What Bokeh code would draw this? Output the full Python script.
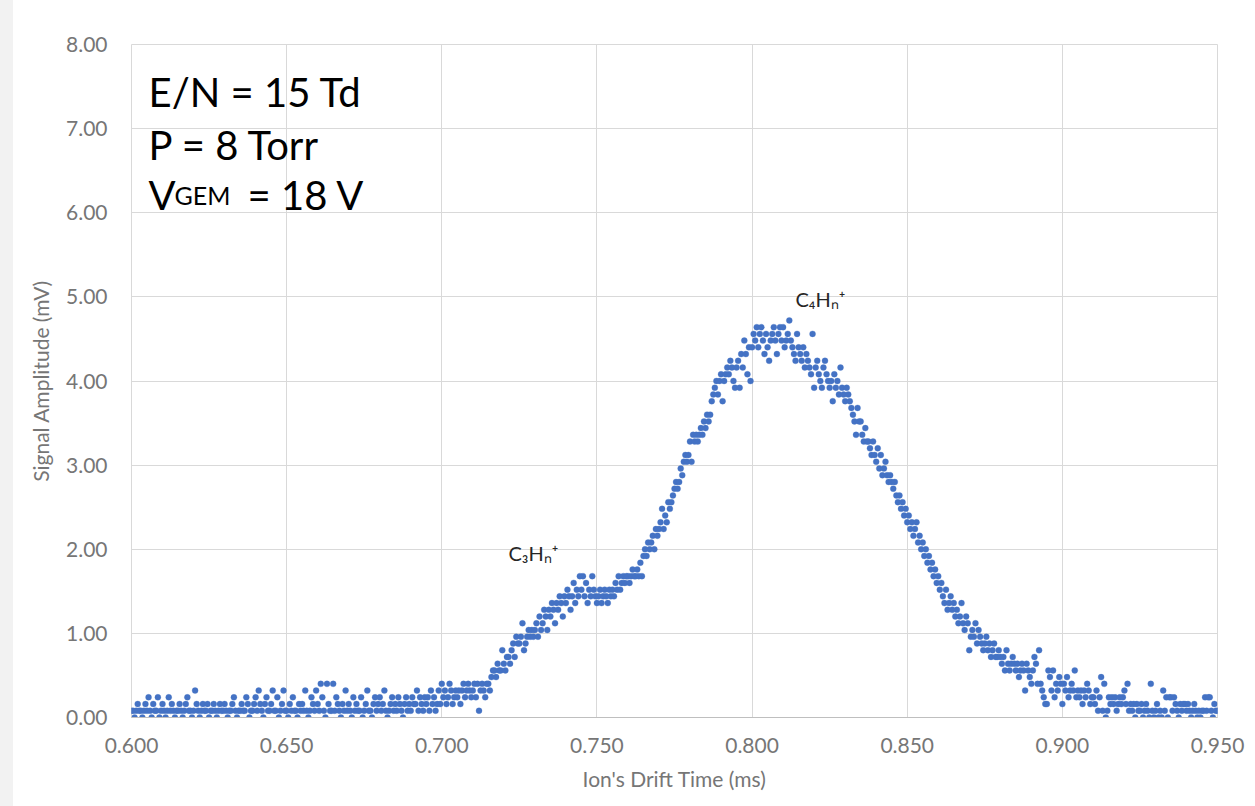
from bokeh.plotting import figure
from bokeh.models import (ColumnDataSource, Range1d, FixedTicker, NumeralTickFormatter,
                          Label, Spacer)
from bokeh.layouts import row
from bokeh.embed import file_html
from bokeh.resources import INLINE

# ---------------- data ----------------
t_start = 0.600      # ms, first sample
t_step = 0.0005      # ms, sampling interval

# Signal amplitude (mV), 0.600 - 0.6995 ms
amp_baseline = [
    0.08, 0.08, 0.00, 0.08, 0.16, 0.08, 0.08, 0.00, 0.08, 0.16,
    0.08, 0.24, 0.08, 0.00, 0.16, 0.08, 0.08, 0.24, 0.00, 0.08,
    0.16, 0.08, 0.00, 0.08, 0.24, 0.08, 0.16, 0.08, 0.00, 0.08,
    0.08, 0.16, 0.08, 0.00, 0.08, 0.16, 0.24, 0.08, 0.08, 0.00,
    0.08, 0.32, 0.16, 0.08, 0.00, 0.08, 0.16, 0.08, 0.08, 0.16,
    0.00, 0.08, 0.08, 0.16, 0.08, 0.00, 0.08, 0.16, 0.08, 0.08,
    0.16, 0.08, 0.00, 0.08, 0.08, 0.16, 0.24, 0.08, 0.00, 0.08,
    0.08, 0.16, 0.08, 0.08, 0.24, 0.16, 0.00, 0.08, 0.08, 0.16,
    0.24, 0.08, 0.32, 0.16, 0.08, 0.00, 0.16, 0.24, 0.08, 0.08,
    0.16, 0.32, 0.08, 0.08, 0.24, 0.00, 0.08, 0.16, 0.32, 0.08,
    0.08, 0.00, 0.16, 0.08, 0.24, 0.08, 0.08, 0.00, 0.16, 0.08,
    0.16, 0.08, 0.32, 0.08, 0.00, 0.08, 0.24, 0.16, 0.08, 0.32,
    0.16, 0.08, 0.40, 0.24, 0.08, 0.00, 0.40, 0.16, 0.08, 0.08,
    0.40, 0.08, 0.24, 0.16, 0.08, 0.00, 0.16, 0.08, 0.32, 0.08,
    0.16, 0.08, 0.00, 0.24, 0.08, 0.16, 0.08, 0.08, 0.24, 0.00,
    0.08, 0.16, 0.32, 0.08, 0.08, 0.00, 0.16, 0.24, 0.08, 0.16,
    0.24, 0.08, 0.16, 0.32, 0.08, 0.00, 0.08, 0.16, 0.24, 0.08,
    0.16, 0.08, 0.24, 0.16, 0.08, 0.00, 0.16, 0.24, 0.08, 0.16,
    0.08, 0.24, 0.16, 0.16, 0.32, 0.08, 0.24, 0.16, 0.08, 0.24,
    0.16, 0.24, 0.08, 0.32, 0.16, 0.24, 0.08, 0.16, 0.32, 0.16,
]

# 0.700 - 0.7995 ms (C3Hn+ shoulder and rising edge)
amp_rise = [
    0.40, 0.24, 0.32, 0.16, 0.24, 0.40, 0.32, 0.16, 0.24, 0.32,
    0.24, 0.32, 0.16, 0.32, 0.40, 0.24, 0.32, 0.40, 0.32, 0.24,
    0.32, 0.40, 0.24, 0.40, 0.08, 0.32, 0.40, 0.32, 0.24, 0.40,
    0.40, 0.32, 0.48, 0.56, 0.56, 0.48, 0.64, 0.56, 0.56, 0.80,
    0.64, 0.56, 0.72, 0.72, 0.64, 0.80, 0.88, 0.72, 0.96, 0.88,
    0.88, 0.96, 1.12, 0.80, 0.88, 0.96, 1.04, 0.96, 1.04, 0.96,
    1.04, 1.12, 0.96, 1.20, 1.04, 1.12, 1.28, 1.20, 1.04, 1.28,
    1.20, 1.36, 1.28, 1.12, 1.36, 1.28, 1.44, 1.36, 1.20, 1.44,
    1.36, 1.52, 1.44, 1.28, 1.44, 1.60, 1.36, 1.52, 1.44, 1.68,
    1.52, 1.68, 1.44, 1.60, 1.36, 1.52, 1.44, 1.68, 1.52, 1.44,
    1.36, 1.44, 1.52, 1.36, 1.44, 1.52, 1.44, 1.36, 1.52, 1.44,
    1.52, 1.44, 1.60, 1.52, 1.68, 1.52, 1.60, 1.68, 1.60, 1.68,
    1.68, 1.60, 1.68, 1.76, 1.68, 1.68, 1.76, 1.68, 1.84, 1.68,
    1.92, 2.00, 1.92, 2.08, 2.00, 2.08, 2.16, 2.00, 2.24, 2.16,
    2.24, 2.32, 2.48, 2.24, 2.40, 2.32, 2.56, 2.48, 2.56, 2.64,
    2.72, 2.80, 2.72, 2.80, 2.96, 2.88, 3.04, 3.12, 3.04, 3.12,
    3.28, 3.04, 3.36, 3.28, 3.36, 3.28, 3.36, 3.44, 3.36, 3.52,
    3.44, 3.60, 3.52, 3.60, 3.76, 3.84, 3.92, 4.00, 3.84, 4.00,
    4.08, 3.76, 4.00, 4.08, 4.16, 4.08, 4.24, 4.16, 4.00, 3.92,
    4.16, 4.24, 3.92, 4.32, 4.16, 4.48, 4.32, 4.08, 4.40, 4.00,
]

# 0.800 - 0.8995 ms (C4Hn+ peak and falling edge)
amp_fall = [
    4.40, 4.56, 4.48, 4.64, 4.40, 4.56, 4.64, 4.48, 4.32, 4.56,
    4.40, 4.24, 4.48, 4.56, 4.64, 4.48, 4.32, 4.56, 4.64, 4.48,
    4.64, 4.40, 4.48, 4.56, 4.72, 4.48, 4.40, 4.32, 4.24, 4.56,
    4.40, 4.32, 4.24, 4.40, 4.16, 4.32, 4.24, 4.16, 4.08, 4.56,
    3.92, 4.16, 4.24, 4.08, 4.00, 3.92, 4.16, 4.24, 4.08, 4.00,
    3.92, 4.00, 3.76, 4.08, 3.92, 4.00, 3.84, 4.16, 3.92, 3.84,
    3.76, 3.92, 3.84, 3.76, 3.68, 3.60, 3.52, 3.36, 3.68, 3.52,
    3.52, 3.36, 3.28, 3.44, 3.28, 3.28, 3.20, 3.12, 3.28, 3.12,
    3.04, 3.20, 2.96, 3.12, 2.88, 2.96, 3.04, 2.88, 2.80, 2.88,
    2.80, 2.72, 2.80, 2.64, 2.56, 2.64, 2.48, 2.56, 2.40, 2.48,
    2.32, 2.40, 2.24, 2.32, 2.16, 2.24, 2.32, 2.08, 2.16, 2.00,
    2.08, 1.92, 2.00, 1.84, 1.92, 1.76, 1.84, 1.68, 1.76, 1.60,
    1.68, 1.52, 1.60, 1.44, 1.36, 1.52, 1.28, 1.36, 1.44, 1.28,
    1.36, 1.20, 1.28, 1.12, 1.20, 1.36, 1.12, 1.04, 1.20, 1.12,
    0.80, 0.96, 1.04, 0.96, 1.12, 0.88, 1.04, 0.96, 0.88, 0.80,
    0.88, 0.96, 0.80, 0.88, 0.72, 0.80, 0.88, 0.72, 0.72, 0.80,
    0.72, 0.64, 0.72, 0.56, 0.80, 0.64, 0.56, 0.64, 0.72, 0.64,
    0.56, 0.64, 0.48, 0.56, 0.64, 0.56, 0.32, 0.64, 0.56, 0.48,
    0.40, 0.56, 0.72, 0.64, 0.40, 0.80, 0.40, 0.32, 0.24, 0.16,
    0.16, 0.56, 0.48, 0.32, 0.56, 0.24, 0.40, 0.32, 0.48, 0.40,
]

# 0.900 - 0.950 ms (tail)
amp_tail = [
    0.16, 0.40, 0.32, 0.48, 0.24, 0.32, 0.40, 0.32, 0.56, 0.24,
    0.32, 0.24, 0.32, 0.16, 0.32, 0.24, 0.40, 0.32, 0.16, 0.24,
    0.24, 0.16, 0.32, 0.08, 0.24, 0.48, 0.08, 0.40, 0.00, 0.08,
    0.24, 0.16, 0.24, 0.16, 0.24, 0.08, 0.16, 0.24, 0.16, 0.24,
    0.32, 0.16, 0.40, 0.08, 0.16, 0.08, 0.16, 0.00, 0.16, 0.08,
    0.08, 0.16, 0.00, 0.08, 0.16, 0.08, 0.00, 0.40, 0.08, 0.00,
    0.08, 0.16, 0.00, 0.08, 0.00, 0.32, 0.08, 0.24, 0.00, 0.24,
    0.24, 0.08, 0.24, 0.16, 0.08, 0.00, 0.16, 0.08, 0.16, 0.16,
    0.08, 0.16, 0.08, 0.00, 0.08, 0.16, 0.08, 0.00, 0.08, 0.00,
    0.08, 0.08, 0.24, 0.08, 0.24, 0.24, 0.08, 0.00, 0.16, 0.08,
    0.08,
]

x_ticks = [0.600, 0.650, 0.700, 0.750, 0.800, 0.850, 0.900, 0.950]
y_ticks = [0, 1, 2, 3, 4, 5, 6, 7, 8]

# ---------------- build ----------------
amplitude = amp_baseline + amp_rise + amp_fall + amp_tail
drift_time = [round(t_start + t_step * i, 4) for i in range(len(amplitude))]
src = ColumnDataSource(data=dict(t=drift_time, amp=amplitude))

FONT = "Lato"
GRID = "#d9d9d9"
TICK_COLOR = "#767676"

p = figure(width=1242, height=806, output_backend="svg", toolbar_location=None,
           x_range=Range1d(0.6, 0.95), y_range=Range1d(0, 8),
           min_border_left=118, min_border_right=38, min_border_top=44,
           min_border_bottom=89, background_fill_color="white",
           border_fill_color="white")
p.outline_line_color = GRID

p.scatter(x="t", y="amp", source=src, size=6, marker="circle",
          fill_color="#4472c4", line_color="#4472c4", line_width=0.3)

# axes
p.xaxis.ticker = FixedTicker(ticks=x_ticks)
p.yaxis.ticker = FixedTicker(ticks=y_ticks)
p.xaxis.formatter = NumeralTickFormatter(format="0.000")
p.yaxis.formatter = NumeralTickFormatter(format="0.00")
p.xgrid.ticker = FixedTicker(ticks=x_ticks)
p.ygrid.ticker = FixedTicker(ticks=y_ticks)
p.xgrid.grid_line_color = GRID
p.ygrid.grid_line_color = GRID

p.xaxis.axis_label = "Ion's Drift Time (ms)"
p.yaxis.axis_label = "Signal Amplitude (mV)"
for ax in (p.xaxis[0], p.yaxis[0]):
    ax.major_tick_line_color = None
    ax.minor_tick_line_color = None
    ax.major_tick_out = 0
    ax.major_tick_in = 0
    ax.major_label_text_font = FONT
    ax.major_label_text_font_size = "21px"
    ax.major_label_text_color = TICK_COLOR
    ax.axis_label_text_font = FONT
    ax.axis_label_text_font_size = "21px"
    ax.axis_label_text_font_style = "normal"
    ax.axis_label_text_color = TICK_COLOR
p.xaxis.axis_line_color = "#bfbfbf"
p.yaxis.axis_line_color = None
p.xaxis.major_label_standoff = 20
p.xaxis.axis_label_standoff = 10
p.yaxis.major_label_standoff = 24
p.yaxis.axis_label_standoff = 10

# condition text block
cond_font = "40px"
p.add_layout(Label(x=0.6055, y=7.44, text="E/N = 15 Td", text_font=FONT,
                   text_font_size=cond_font, text_color="black",
                   text_baseline="alphabetic"))
p.add_layout(Label(x=0.6055, y=6.81, text="P = 8 Torr", text_font=FONT,
                   text_font_size=cond_font, text_color="black",
                   text_baseline="alphabetic"))
p.add_layout(Label(x=0.6055, y=6.21, text="V", text_font=FONT,
                   text_font_size=cond_font, text_color="black",
                   text_baseline="alphabetic"))
p.add_layout(Label(x=0.6055, y=6.21, x_offset=26, text="GEM", text_font=FONT,
                   text_font_size="25px", text_color="black",
                   text_baseline="alphabetic"))
p.add_layout(Label(x=0.6055, y=6.21, x_offset=99, text="= 18 V", text_font=FONT,
                   text_font_size=cond_font, text_color="black",
                   text_baseline="alphabetic"))

# peak labels
p.add_layout(Label(x=0.7215, y=1.96, text="C\u2083H\u2099\u207a", text_font=FONT,
                   text_font_size="20px", text_color="#262626",
                   text_baseline="alphabetic"))
p.add_layout(Label(x=0.8140, y=4.97, text="C\u2084H\u2099\u207a", text_font=FONT,
                   text_font_size="20px", text_color="#262626",
                   text_baseline="alphabetic"))

strip = Spacer(width=13, height=806, styles={"background-color": "#f2f2f2"})
layout = row(strip, p, spacing=0)

open("out.html", "w").write(file_html(layout, INLINE))
